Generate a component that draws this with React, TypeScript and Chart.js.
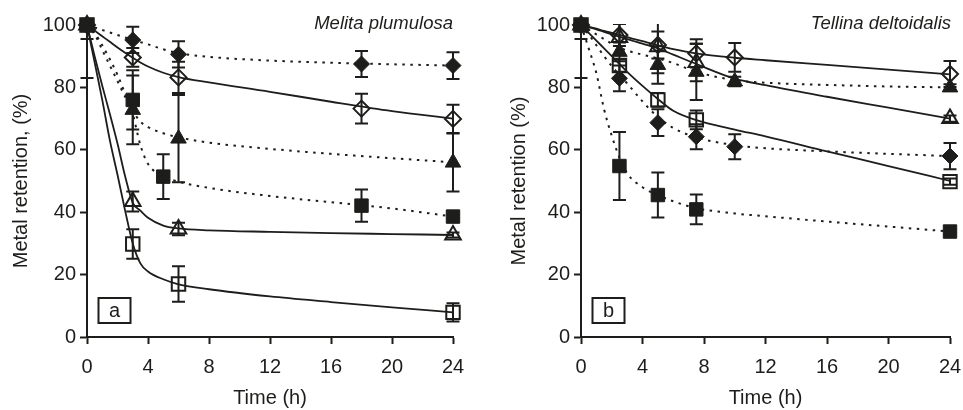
import React, { useEffect, useRef } from 'react';
import { Chart, registerables } from 'chart.js';

Chart.register(...registerables);

const INK = '#1d1d1b';
const FONT = '"Liberation Sans", Arial, Helvetica, sans-serif';

// ---------- Axis ticks ----------
const xTickStep = 4;
const xMin = 0;
const xMax = 24;
const yTickStep = 20;
const yMin = 0;
const yMax = 100;

// ---------- Panel a: Melita plumulosa ----------
const aTitle = 'Melita plumulosa';
const aLetter = 'a';
const aYTitle = 'Metal retention, (%)';

// measured points (time h, retention %, ± error)
const aFilledDiamondT = [0, 3, 6, 18, 24];
const aFilledDiamondV = [100, 95.2, 90.6, 87.5, 87];
const aFilledDiamondE = [0, 4.2, 4.2, 4.2, 4.3];

const aOpenDiamondT = [0, 3, 6, 18, 24];
const aOpenDiamondV = [100, 89.6, 83.2, 73.2, 69.9];
const aOpenDiamondE = [0, 3, 5, 4.8, 4.5];

const aFilledTriangleT = [0, 3, 6, 24];
const aFilledTriangleV = [100, 72.8, 63.6, 55.9];
const aFilledTriangleE = [17, 11, 14, 9.3];

const aFilledSquareT = [0, 3, 5, 18, 24];
const aFilledSquareV = [100, 76, 51.4, 42.1, 38.6];
const aFilledSquareE = [4.5, 9.5, 7.2, 5.2, 0.6];

const aOpenTriangleT = [0, 3, 6, 24];
const aOpenTriangleV = [100, 43.4, 34.6, 32.7];
const aOpenTriangleE = [0, 3.2, 2, 0.8];

const aOpenSquareT = [0, 3, 6, 24];
const aOpenSquareV = [100, 29.8, 17, 7.9];
const aOpenSquareE = [0, 4.7, 5.7, 2.9];

// fitted curves
const aCurveT = [0, 0.5, 1, 1.5, 2, 2.5, 3, 3.5, 4, 5, 6, 8, 12, 16, 20, 24];
const aFilledDiamondCurve = [100, 99.2, 98.4, 97.6, 96.8, 96.0, 95.2, 94.5, 93.8, 92.2, 91.0, 89.8, 88.6, 87.9, 87.4, 87.0];
const aOpenDiamondCurve = [100, 98.2, 96.4, 94.6, 92.8, 91.1, 89.5, 88.0, 86.7, 84.7, 83.3, 81.6, 78.6, 75.4, 72.4, 70.0];
const aFilledTriangleCurve = [100, 97.0, 92.0, 87.0, 82.0, 77.0, 72.5, 69.0, 67.3, 65.3, 64.0, 62.3, 60.3, 58.7, 57.3, 56.0];
const aFilledSquareCurve = [100, 97.5, 93.5, 89.0, 84.0, 78.0, 71.5, 61.5, 55.5, 51.5, 49.8, 47.8, 45.2, 43.2, 41.2, 38.6];
const aOpenTriangleCurve = [100, 90.0, 80.5, 71.5, 62.0, 51.5, 43.0, 40.5, 38.2, 35.7, 34.8, 34.2, 33.7, 33.3, 33.0, 32.7];
const aOpenSquareCurve = [100, 88.0, 76.0, 63.0, 52.0, 40.5, 30.0, 23.6, 21.0, 18.5, 16.9, 15.3, 13.0, 11.2, 9.5, 7.9];

// ---------- Panel b: Tellina deltoidalis ----------
const bTitle = 'Tellina deltoidalis';
const bLetter = 'b';
const bYTitle = 'Metal retention (%)';

const bOpenDiamondT = [0, 2.5, 5, 7.5, 10, 24];
const bOpenDiamondV = [100, 96.8, 93.6, 90.9, 89.6, 84.3];
const bOpenDiamondE = [0, 3.5, 4.3, 4.5, 4.6, 4.2];

const bOpenTriangleT = [0, 2.5, 5, 7.5, 24];
const bOpenTriangleV = [100, 96, 93, 88, 70];
const bOpenTriangleE = [0, 5.6, 8.5, 6, 1];

const bFilledTriangleT = [0, 2.5, 5, 7.5, 10, 24];
const bFilledTriangleV = [100, 91.4, 87.2, 85, 81.9, 80];
const bFilledTriangleE = [17, 3, 6, 9, 1.5, 1];

const bOpenSquareT = [0, 2.5, 5, 7.5, 24];
const bOpenSquareV = [100, 87, 76, 69.6, 49.8];
const bOpenSquareE = [0, 2, 2.2, 3, 1];

const bFilledDiamondT = [0, 2.5, 5, 7.5, 10, 24];
const bFilledDiamondV = [100, 82.9, 68.7, 64.2, 61, 58];
const bFilledDiamondE = [0, 4.1, 4.3, 4, 4, 4.2];

const bFilledSquareT = [0, 2.5, 5, 7.5, 24];
const bFilledSquareV = [100, 54.8, 45.5, 40.9, 33.8];
const bFilledSquareE = [4.5, 10.9, 7.2, 4.8, 0.5];

const bCurveT = [0, 0.5, 1, 1.5, 2, 2.5, 3, 4, 5, 6, 7.5, 10, 12, 16, 20, 24];
const bOpenDiamondCurve = [100, 99.4, 98.8, 98.1, 97.5, 96.8, 96.1, 94.8, 93.5, 92.3, 90.9, 89.5, 88.7, 87.2, 85.7, 84.2];
const bOpenTriangleCurve = [100, 99.3, 98.6, 97.8, 97.0, 96.2, 95.5, 94.0, 92.5, 90.5, 87.5, 82.8, 80.7, 77.0, 73.5, 70.0];
const bFilledTriangleCurve = [100, 98.5, 97.0, 95.5, 94.0, 92.8, 91.8, 90.5, 89.3, 87.8, 85.0, 82.3, 81.5, 80.8, 80.3, 80.0];
const bOpenSquareCurve = [100, 97.5, 95.0, 92.5, 90.0, 87.5, 85.0, 80.5, 76.3, 72.5, 69.5, 66.5, 64.3, 59.5, 54.8, 50.0];
const bFilledDiamondCurve = [100, 97.0, 93.5, 90.0, 86.8, 84.0, 81.3, 75.5, 70.5, 67.0, 64.0, 61.5, 60.5, 59.5, 58.7, 58.0];
const bFilledSquareCurve = [100, 92.5, 84.5, 73.0, 64.5, 57.5, 52.5, 48.0, 45.5, 43.5, 41.3, 39.6, 38.7, 37.0, 35.4, 33.8];

// ---------- helpers ----------
type Marker = 'filledDiamond' | 'openDiamond' | 'filledTriangle' | 'openTriangle' | 'filledSquare' | 'openSquare';

const markerStyle: Record<Marker, { pointStyle: string; radius: number; filled: boolean }> = {
  filledDiamond: { pointStyle: 'rectRot', radius: 8, filled: true },
  openDiamond: { pointStyle: 'rectRot', radius: 8, filled: false },
  filledTriangle: { pointStyle: 'triangle', radius: 9, filled: true },
  openTriangle: { pointStyle: 'triangle', radius: 9, filled: false },
  filledSquare: { pointStyle: 'rect', radius: 9.5, filled: true },
  openSquare: { pointStyle: 'rect', radius: 9.5, filled: false },
};

function pts(t: number[], v: number[]) {
  return t.map((x, i) => ({ x, y: v[i] }));
}

function markerDataset(marker: Marker, t: number[], v: number[], e: number[]) {
  const m = markerStyle[marker];
  return {
    data: pts(t, v),
    errors: e,
    showLine: false,
    pointStyle: m.pointStyle,
    pointRadius: m.radius,
    pointBackgroundColor: m.filled ? INK : 'rgba(0,0,0,0)',
    pointBorderColor: INK,
    pointBorderWidth: m.filled ? 1 : 2,
    clip: false,
  };
}

function curveDataset(t: number[], v: number[], dotted: boolean) {
  return {
    data: pts(t, v),
    showLine: true,
    pointRadius: 0,
    borderColor: INK,
    borderWidth: dotted ? 2 : 1.8,
    borderDash: dotted ? [2.5, 5.5] : [],
    cubicInterpolationMode: 'monotone',
    fill: false,
    clip: false,
  };
}

const CAP = 6.5;

const errorBarPlugin = {
  id: 'errorBars',
  beforeDatasetsDraw(chart: any) {
    const { ctx, chartArea } = chart;
    const xs = chart.scales.x;
    const ys = chart.scales.y;
    ctx.save();
    ctx.beginPath();
    ctx.rect(0, chartArea.top - 1, chart.width, chartArea.bottom - chartArea.top + 1);
    ctx.clip();
    ctx.strokeStyle = INK;
    ctx.lineWidth = 2;
    chart.data.datasets.forEach((ds: any) => {
      if (!ds.errors) return;
      ds.data.forEach((p: any, i: number) => {
        const e = ds.errors[i];
        if (!e) return;
        const px = xs.getPixelForValue(p.x);
        const yt = ys.getPixelForValue(p.y + e);
        const yb = ys.getPixelForValue(p.y - e);
        ctx.beginPath();
        ctx.moveTo(px, yt);
        ctx.lineTo(px, yb);
        ctx.moveTo(px - CAP, yt);
        ctx.lineTo(px + CAP, yt);
        ctx.moveTo(px - CAP, yb);
        ctx.lineTo(px + CAP, yb);
        ctx.stroke();
      });
    });
    ctx.restore();
  },
};

const panelLabelPlugin = {
  id: 'panelLabels',
  afterDraw(chart: any, _args: any, opts: any) {
    const { ctx, chartArea } = chart;
    ctx.save();
    ctx.fillStyle = INK;
    ctx.font = `italic 18.5px ${FONT}`;
    ctx.textAlign = 'right';
    ctx.textBaseline = 'middle';
    ctx.fillText(opts.title, chartArea.right + (opts.titleDx || 0), chartArea.top - 1);
    const bx = chartArea.left + 11.5;
    const by = chartArea.bottom - 39;
    const bw = 32;
    const bh = 25;
    ctx.lineWidth = 2;
    ctx.strokeStyle = INK;
    ctx.strokeRect(bx, by, bw, bh);
    ctx.font = `20px ${FONT}`;
    ctx.textAlign = 'center';
    ctx.fillText(opts.letter, bx + bw / 2, by + bh / 2 + 1);
    ctx.restore();
  },
};

type PanelCfg = {
  datasets: any[];
  title: string;
  letter: string;
  yTitle: string;
  padLeft: number;
  padRight: number;
  yAxisWidth: number;
  titleDx: number;
};

function buildConfig(p: PanelCfg): any {
  const tickFont = { family: FONT, size: 20 };
  return {
    type: 'scatter',
    data: { datasets: p.datasets },
    options: {
      animation: false,
      responsive: false,
      devicePixelRatio: 1,
      events: [],
      layout: { padding: { left: p.padLeft, top: 25, right: p.padRight, bottom: 0 } },
      plugins: {
        legend: { display: false },
        tooltip: { enabled: false },
        panelLabels: { title: p.title, letter: p.letter, titleDx: p.titleDx },
      },
      scales: {
        x: {
          type: 'linear',
          min: xMin,
          max: xMax,
          ticks: { stepSize: xTickStep, color: INK, font: tickFont, padding: 11, maxRotation: 0 },
          grid: { drawOnChartArea: false, drawTicks: true, tickLength: 7, tickWidth: 2, tickColor: INK },
          border: { display: true, color: INK, width: 2 },
          title: { display: true, text: 'Time (h)', color: INK, font: { family: FONT, size: 20 }, padding: { top: 0, bottom: 0 } },
          afterFit: (s: any) => {
            s.height = 73;
          },
        },
        y: {
          type: 'linear',
          min: yMin,
          max: yMax,
          ticks: { stepSize: yTickStep, color: INK, font: tickFont, padding: 4 },
          grid: { drawOnChartArea: false, drawTicks: true, tickLength: 7, tickWidth: 2, tickColor: INK },
          border: { display: true, color: INK, width: 2 },
          title: { display: true, text: p.yTitle, color: INK, font: { family: FONT, size: 20 }, padding: { top: 9, bottom: 0 } },
          afterFit: (s: any) => {
            s.width = p.yAxisWidth;
          },
        },
      },
    },
    plugins: [errorBarPlugin, panelLabelPlugin],
  };
}

const panelA: PanelCfg = {
  title: aTitle,
  letter: aLetter,
  yTitle: aYTitle,
  padLeft: 0,
  padRight: 27,
  yAxisWidth: 87,
  titleDx: 0,
  datasets: [
    markerDataset('filledDiamond', aFilledDiamondT, aFilledDiamondV, aFilledDiamondE),
    markerDataset('openDiamond', aOpenDiamondT, aOpenDiamondV, aOpenDiamondE),
    markerDataset('filledTriangle', aFilledTriangleT, aFilledTriangleV, aFilledTriangleE),
    markerDataset('filledSquare', aFilledSquareT, aFilledSquareV, aFilledSquareE),
    markerDataset('openTriangle', aOpenTriangleT, aOpenTriangleV, aOpenTriangleE),
    markerDataset('openSquare', aOpenSquareT, aOpenSquareV, aOpenSquareE),
    curveDataset(aCurveT, aFilledDiamondCurve, true),
    curveDataset(aCurveT, aOpenDiamondCurve, false),
    curveDataset(aCurveT, aFilledTriangleCurve, true),
    curveDataset(aCurveT, aFilledSquareCurve, true),
    curveDataset(aCurveT, aOpenTriangleCurve, false),
    curveDataset(aCurveT, aOpenSquareCurve, false),
  ],
};

const panelB: PanelCfg = {
  title: bTitle,
  letter: bLetter,
  yTitle: bYTitle,
  padLeft: 18,
  padRight: 30,
  yAxisWidth: 83,
  titleDx: 1,
  datasets: [
    markerDataset('openDiamond', bOpenDiamondT, bOpenDiamondV, bOpenDiamondE),
    markerDataset('openTriangle', bOpenTriangleT, bOpenTriangleV, bOpenTriangleE),
    markerDataset('filledTriangle', bFilledTriangleT, bFilledTriangleV, bFilledTriangleE),
    markerDataset('openSquare', bOpenSquareT, bOpenSquareV, bOpenSquareE),
    markerDataset('filledDiamond', bFilledDiamondT, bFilledDiamondV, bFilledDiamondE),
    markerDataset('filledSquare', bFilledSquareT, bFilledSquareV, bFilledSquareE),
    curveDataset(bCurveT, bOpenDiamondCurve, false),
    curveDataset(bCurveT, bOpenTriangleCurve, false),
    curveDataset(bCurveT, bFilledTriangleCurve, true),
    curveDataset(bCurveT, bOpenSquareCurve, false),
    curveDataset(bCurveT, bFilledDiamondCurve, true),
    curveDataset(bCurveT, bFilledSquareCurve, true),
  ],
};

function Panel({ cfg, left, width }: { cfg: PanelCfg; left: number; width: number }) {
  const ref = useRef<HTMLCanvasElement>(null);
  useEffect(() => {
    if (!ref.current) return;
    const chart = new Chart(ref.current, buildConfig(cfg));
    return () => chart.destroy();
  }, [cfg]);
  return (
    <canvas
      ref={ref}
      width={width}
      height={410}
      style={{ position: 'absolute', left, top: 0, width, height: 410, display: 'block' }}
    />
  );
}

export default function App() {
  return (
    <div
      style={{
        position: 'fixed',
        left: 0,
        top: 0,
        width: 963,
        height: 410,
        overflow: 'hidden',
        background: '#ffffff',
      }}
    >
      <Panel cfg={panelA} left={0} width={480} />
      <Panel cfg={panelB} left={480} width={500} />
    </div>
  );
}
